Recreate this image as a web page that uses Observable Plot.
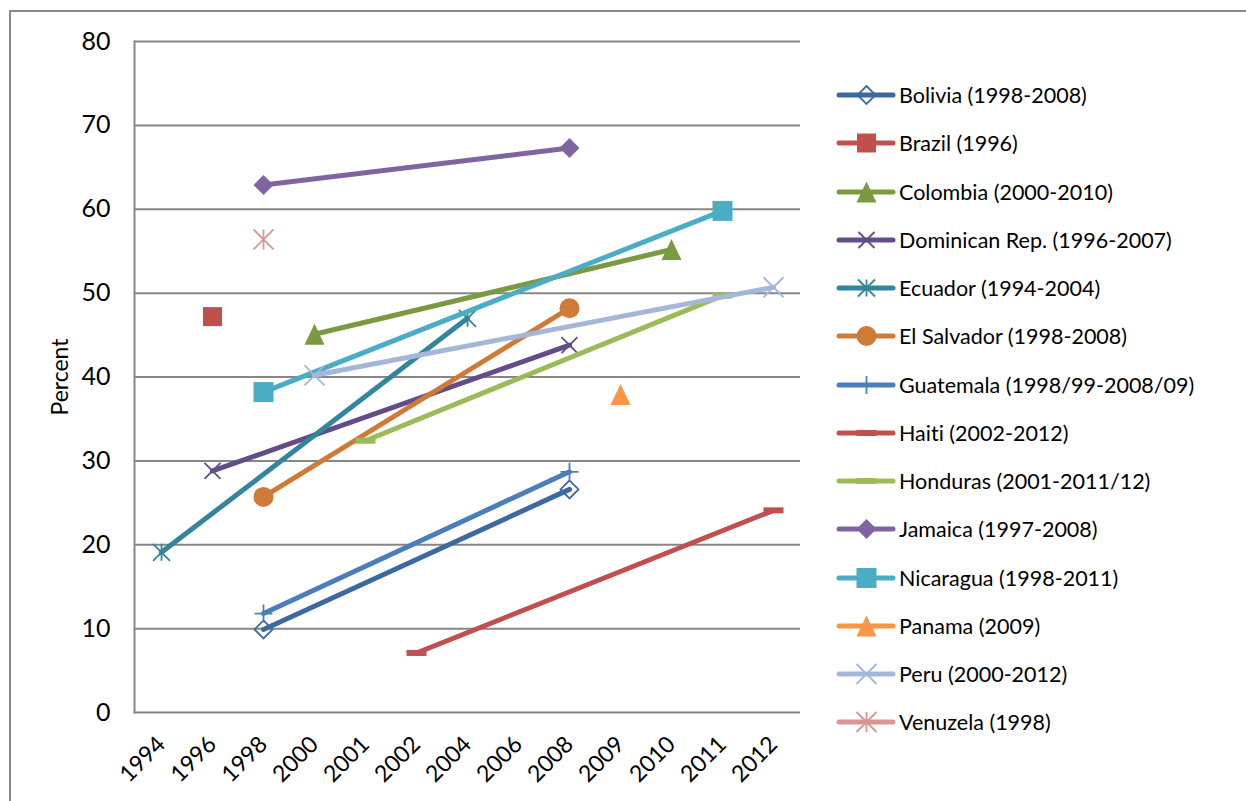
<!DOCTYPE html>
<html>
<head>
<meta charset="utf-8">
<script src="https://cdn.jsdelivr.net/npm/d3@7"></script>
<script src="https://cdn.jsdelivr.net/npm/@observablehq/plot@0.6"></script>
<style>
  html, body { margin: 0; padding: 0; background: #fff; overflow: hidden; }
  #wrap { position: relative; width: 1246px; height: 801px; font-family: Lato, "Open Sans", sans-serif;
          font-variant-ligatures: none; }
  #frame { position: absolute; left: 9px; top: 10px; width: 1300px; height: 900px;
           border-top: 2px solid #888; border-left: 2px solid #888; }
  #chart { position: absolute; left: 0; top: 0; }
  #legend { position: absolute; left: 836px; top: 0; }
  .row { position: absolute; left: 0; height: 30px; display: flex; align-items: center;
         white-space: nowrap; font-size: 21.5px; color: #000; }
  .row svg { display: block; }
  .row span { margin-left: 1px; }
</style>
</head>
<body>
<div id="wrap">
  <div id="frame"></div>
  <div id="chart"></div>
  <div id="legend"></div>
</div>
<script>
// Survey years shown on the category axis
const years = ["1994", "1996", "1998", "2000", "2001", "2002", "2004", "2006", "2008", "2009", "2010", "2011", "2012"];

// Series names (with the survey period of each country)
const countries = [
  "Bolivia (1998-2008)",
  "Brazil (1996)",
  "Colombia (2000-2010)",
  "Dominican Rep. (1996-2007)",
  "Ecuador (1994-2004)",
  "El Salvador (1998-2008)",
  "Guatemala (1998/99-2008/09)",
  "Haiti (2002-2012)",
  "Honduras (2001-2011/12)",
  "Jamaica (1997-2008)",
  "Nicaragua (1998-2011)",
  "Panama (2009)",
  "Peru (2000-2012)",
  "Venuzela (1998)"
];

// First survey: category and percent
const startYear  = ["1998", "1996", "2000", "1996", "1994", "1998", "1998", "2002", "2001", "1998", "1998", "2009", "2000", "1998"];
const startValue = [9.9, 47.2, 45.1, 28.8, 19.1, 25.7, 11.8, 7.1, 32.4, 62.9, 38.2, 37.9, 40.2, 56.4];

// Latest survey: category and percent (null where only one survey exists)
const endYear  = ["2008", null, "2010", "2008", "2004", "2008", "2008", "2012", "2011", "2008", "2011", null, "2012", null];
const endValue = [26.6, null, 55.2, 43.8, 47.0, 48.2, 28.7, 24.1, 49.7, 67.3, 59.8, null, 50.7, null];

const yTicks = [0, 10, 20, 30, 40, 50, 60, 70, 80];

// Line colour and marker of each series
const colors = ["#3D69A1", "#C0504D", "#7A9A41", "#634C87", "#31859C", "#CF7A36", "#4A7EBB",
                "#C0504D", "#9BBB59", "#8064A2", "#4BACC6", "#F79646", "#A5B7D9", "#D99694"];
const markerStyle = [
  {shape: "diamond", r: 9, filled: false},
  {shape: "square", r: 9.5, filled: true},
  {shape: "triangle", r: 10, filled: true},
  {shape: "x", r: 8, filled: false},
  {shape: "asterisk", r: 8.5, filled: false},
  {shape: "circle", r: 10, filled: true},
  {shape: "plus", r: 9, filled: false},
  {shape: "dash", r: 10, filled: true},
  {shape: "dash", r: 10, filled: true},
  {shape: "diamond", r: 10, filled: true},
  {shape: "square", r: 10, filled: true},
  {shape: "triangle", r: 10, filled: true},
  {shape: "x", r: 10, filled: false},
  {shape: "asterisk", r: 10, filled: false}
];

// Custom marker shapes; r is recovered from the symbol area Plot passes in
function makeSymbol(draw) {
  return {draw(ctx, size) { draw(ctx, Math.sqrt(size / Math.PI)); }};
}
const symbols = {
  diamond: makeSymbol((c, r) => { c.moveTo(0, -r); c.lineTo(r, 0); c.lineTo(0, r); c.lineTo(-r, 0); c.closePath(); }),
  square: makeSymbol((c, r) => { c.moveTo(-r, -r); c.lineTo(r, -r); c.lineTo(r, r); c.lineTo(-r, r); c.closePath(); }),
  triangle: makeSymbol((c, r) => { c.moveTo(0, -r * 1.05); c.lineTo(r, r * 1.05); c.lineTo(-r, r * 1.05); c.closePath(); }),
  circle: makeSymbol((c, r) => { c.moveTo(r, 0); c.arc(0, 0, r, 0, 2 * Math.PI); c.closePath(); }),
  x: makeSymbol((c, r) => { c.moveTo(-r, -r); c.lineTo(r, r); c.moveTo(-r, r); c.lineTo(r, -r); }),
  plus: makeSymbol((c, r) => { c.moveTo(-r, 0); c.lineTo(r, 0); c.moveTo(0, -r); c.lineTo(0, r); }),
  asterisk: makeSymbol((c, r) => { c.moveTo(-r, -r); c.lineTo(r, r); c.moveTo(-r, r); c.lineTo(r, -r); c.moveTo(0, -r); c.lineTo(0, r); }),
  dash: makeSymbol((c, r) => { const h = r * 0.3; c.moveTo(-r, -h); c.lineTo(r, -h); c.lineTo(r, h); c.lineTo(-r, h); c.closePath(); })
};

const series = countries.map((name, i) => {
  const pts = [{year: startYear[i], value: startValue[i]}];
  if (endYear[i] != null) pts.push({year: endYear[i], value: endValue[i]});
  return {name, pts, color: colors[i], marker: markerStyle[i]};
});

function dotOptions(s) {
  const m = s.marker;
  return {
    x: "year", y: "value",
    symbol: symbols[m.shape], r: m.r,
    fill: m.filled ? s.color : "none",
    stroke: s.color,
    strokeWidth: m.filled ? 0 : 1.8
  };
}

const seriesMarks = series.flatMap(s => [
  s.pts.length > 1
    ? Plot.line(s.pts, {x: "year", y: "value", stroke: s.color, strokeWidth: 5, strokeLinecap: "round"})
    : null,
  Plot.dot(s.pts, dotOptions(s))
]).filter(Boolean);

const chart = Plot.plot({
  width: 1246,
  height: 801,
  marginLeft: 134,
  marginRight: 446,
  marginTop: 41,
  marginBottom: 89,
  style: {fontFamily: "Lato, 'Open Sans', sans-serif", fontSize: "22px", background: "transparent", color: "#000"},
  x: {type: "point", domain: years, padding: 0.5},
  y: {domain: [0, 80]},
  marks: [
    Plot.ruleY(yTicks, {stroke: "#868686", strokeWidth: 2}),
    Plot.frame({anchor: "left", stroke: "#868686", strokeWidth: 2}),
    Plot.axisY({ticks: yTicks, tickSize: 0, tickPadding: 24, fontSize: 25, label: null}),
    Plot.axisX({tickSize: 0, tickPadding: 28, tickRotate: -45, fontSize: 23, label: null}),
    Plot.text(["Percent"], {frameAnchor: "left", textAnchor: "middle", dx: -74, rotate: -90, fontSize: 23}),
    ...seriesMarks
  ]
});
document.getElementById("chart").appendChild(chart);

// Legend: a line sample with the series marker, then the series name
const legend = d3.select("#legend");
series.forEach((s, i) => {
  const row = legend.append("div").attr("class", "row").style("top", (95 + i * 48.25 - 15) + "px");
  const svg = row.append("svg").attr("width", 62).attr("height", 30);
  svg.append("line").attr("x1", 3).attr("x2", 57).attr("y1", 15).attr("y2", 15)
    .attr("stroke", s.color).attr("stroke-width", 5).attr("stroke-linecap", "round");
  const p = d3.path();
  symbols[s.marker.shape].draw(p, Math.PI * s.marker.r * s.marker.r);
  svg.append("path").attr("d", p.toString()).attr("transform", "translate(30.5,15)")
    .attr("fill", s.marker.filled ? s.color : "none")
    .attr("stroke", s.color).attr("stroke-width", s.marker.filled ? 0 : 1.8);
  row.append("span").text(s.name);
});
</script>
</body>
</html>
